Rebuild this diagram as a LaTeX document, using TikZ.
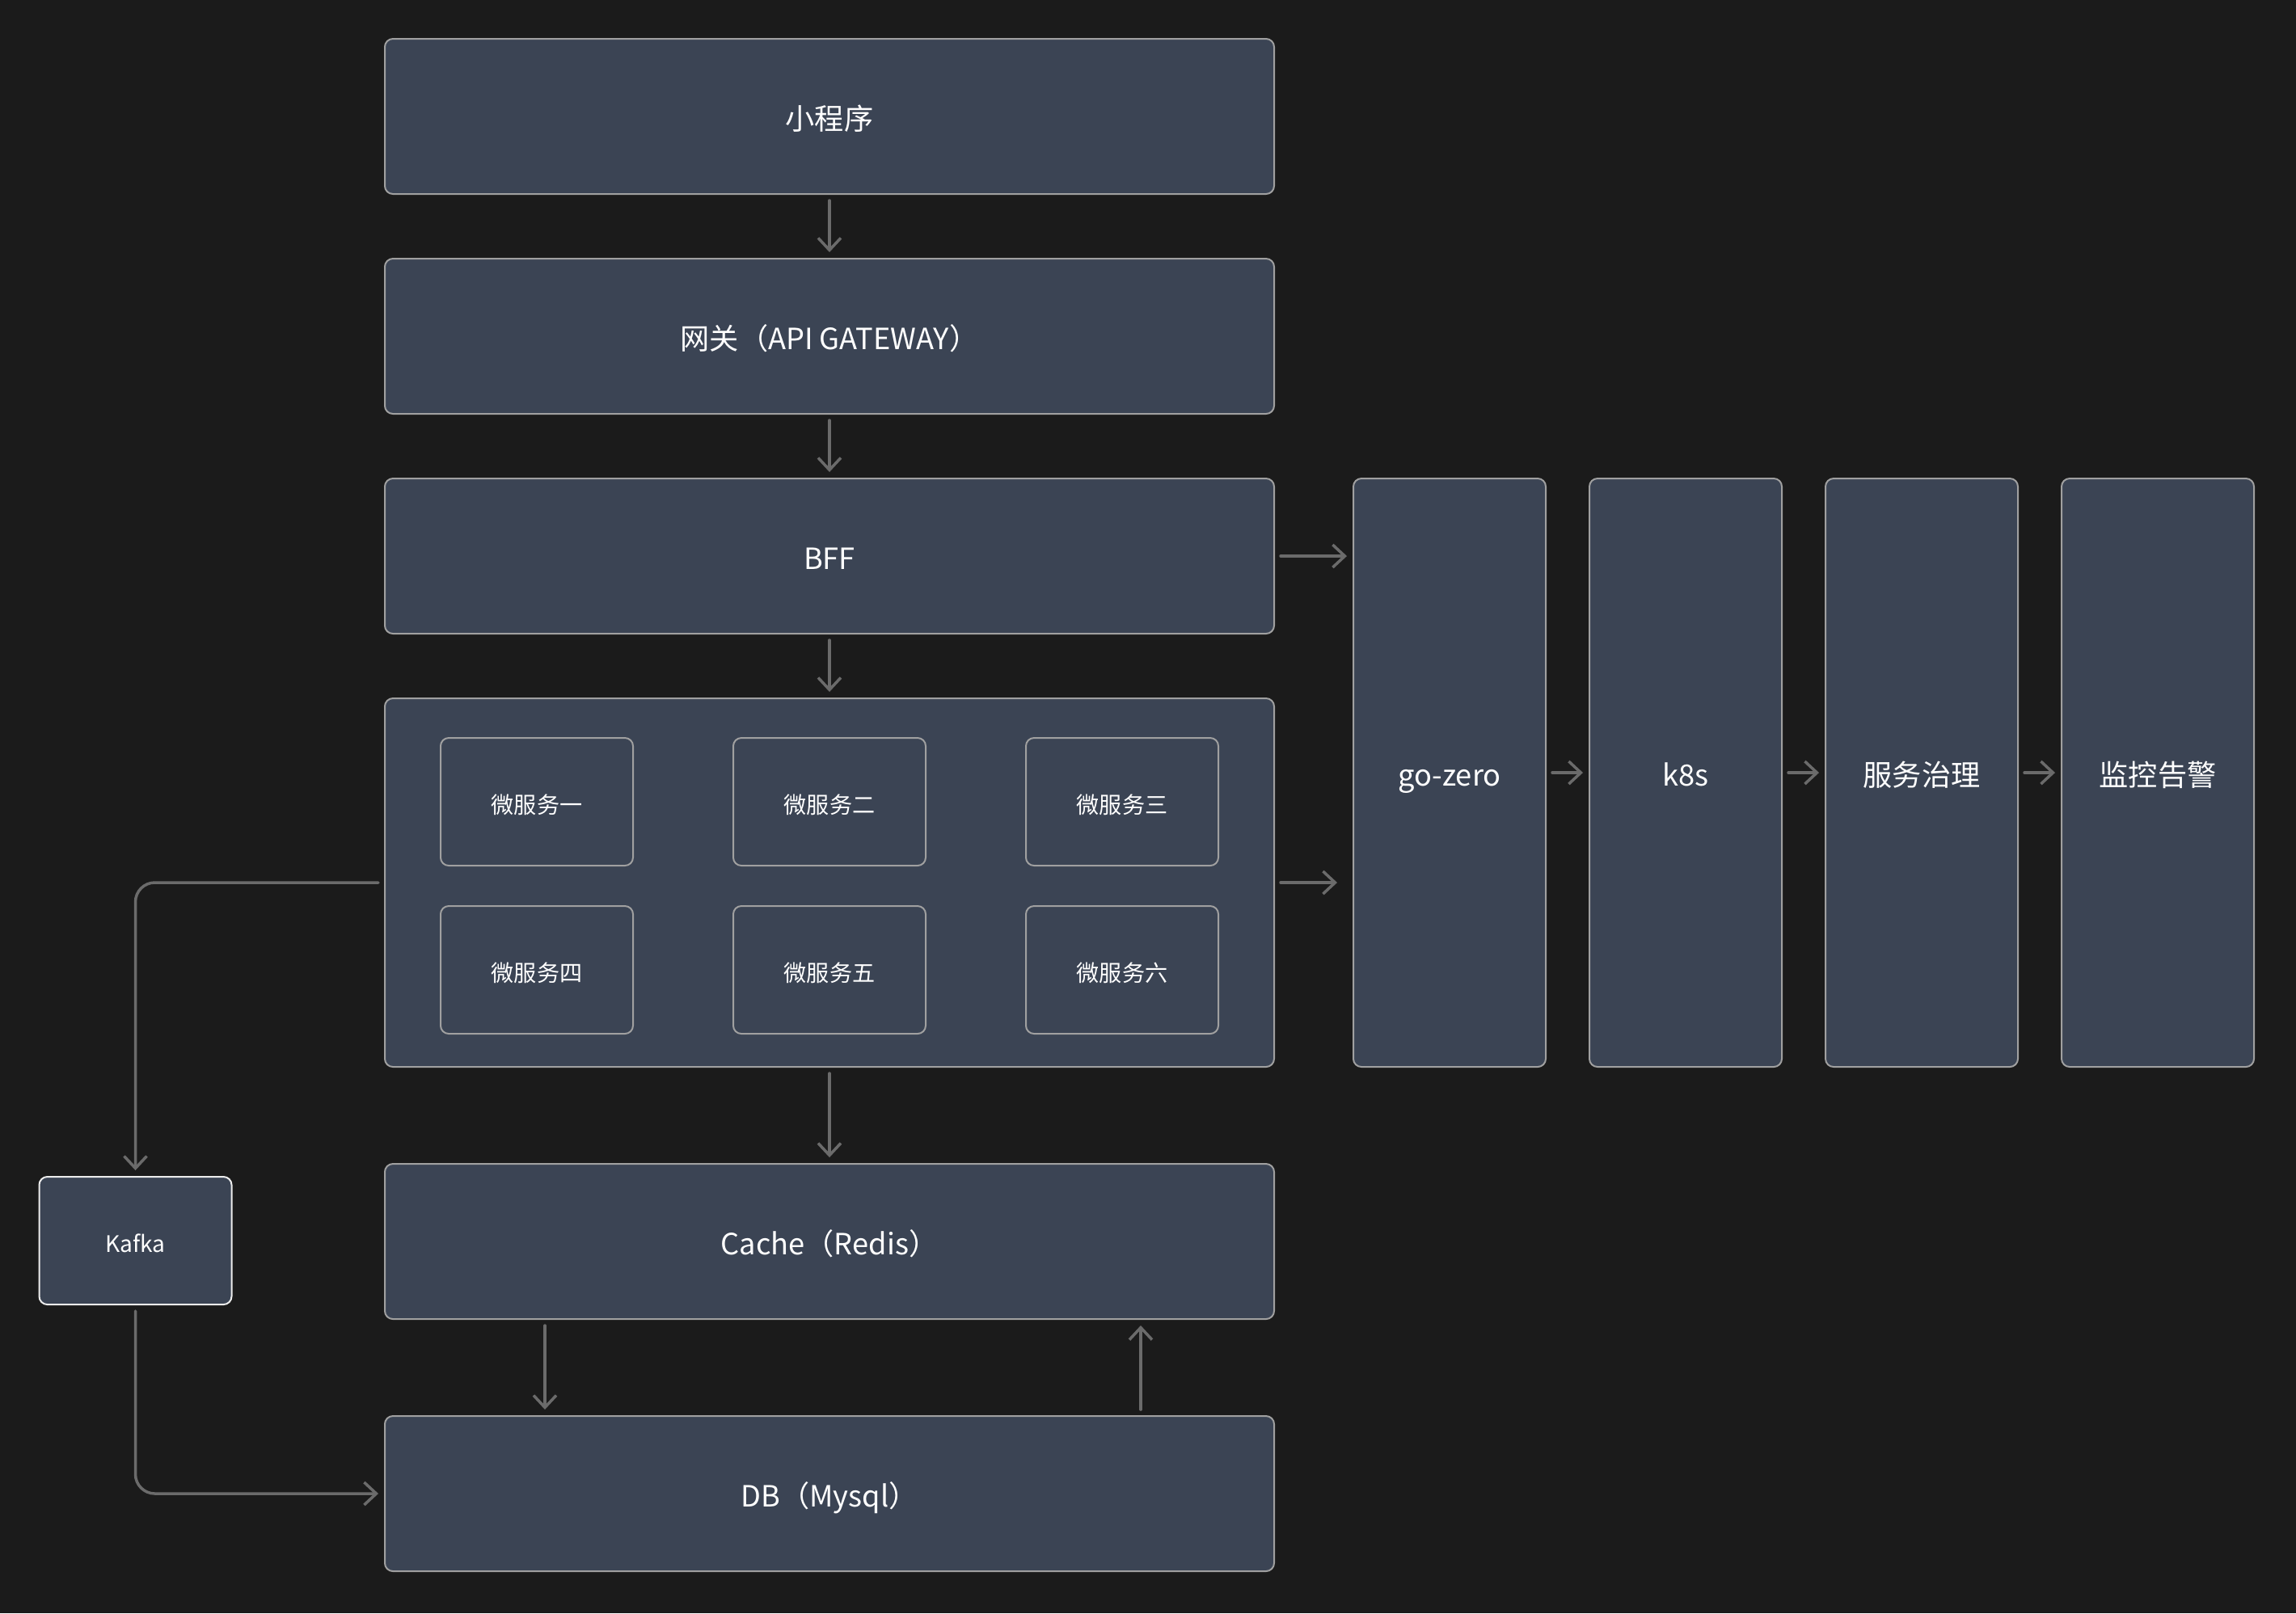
\documentclass[tikz,border=0pt]{standalone}
\usepackage{fontspec}
\setmainfont{Noto Sans CJK SC}
\usepackage{xcolor}
\usepackage{tikz}
\usetikzlibrary{positioning,arrows.meta,calc}

\definecolor{bgdark}{HTML}{1B1B1B}
\definecolor{boxfill}{HTML}{3B4454}
\definecolor{boxline}{HTML}{A0A0A0}
\definecolor{kafkaline}{HTML}{ECECEC}
\definecolor{flowline}{HTML}{6B6B6B}

\begin{document}
\begin{tikzpicture}[
  layer/.style={draw=boxline, fill=boxfill, line width=0.02cm, rounded corners=0.1cm,
    text=white, font=\fontsize{10.3}{12}\selectfont, inner sep=0pt, outer sep=0pt,
    text height=0.92em, text depth=0pt,
    minimum width=11cm, minimum height=1.92cm},
  pillar/.style={layer, minimum width=2.38cm, minimum height=7.28cm},
  svcbox/.style={layer, font=\fontsize{8}{10}\selectfont, text height=0.82em,
    minimum width=2.38cm, minimum height=1.58cm},
  flow/.style={draw=flowline, line width=0.035cm, line cap=round,
    -{Straight Barb[length=0.15cm,width=0.28cm]}, shorten <=0.08cm, shorten >=0.08cm}
]
% Background
\fill[bgdark] (0,0) rectangle (28.4,-19.96);
\useasboundingbox (0,0) rectangle (28.4,-19.96);

% Main layers
\node[layer] (app) at (10.26,-1.44) {小程序};
\node[layer] (gateway) at (10.26,-4.16) {网关（API GATEWAY）};
\node[layer] (bff) at (10.26,-6.88) {BFF};
\node[layer, minimum height=4.56cm] (svc) at (10.26,-10.92) {};
\node[layer] (cache) at (10.26,-15.36) {Cache（Redis）};
\node[layer] (db) at (10.26,-18.48) {DB（Mysql）};

% Microservices
\node[svcbox] (svc1) at (6.64,-9.92) {微服务一};
\node[svcbox] (svc2) at (10.26,-9.92) {微服务二};
\node[svcbox] (svc3) at (13.88,-9.92) {微服务三};
\node[svcbox] (svc4) at (6.64,-12.00) {微服务四};
\node[svcbox] (svc5) at (10.26,-12.00) {微服务五};
\node[svcbox] (svc6) at (13.88,-12.00) {微服务六};

% Kafka
\node[svcbox, draw=kafkaline] (kafka) at (1.675,-15.35) {Kafka};

% Right column
\node[pillar] (goz) at (17.93,-9.56) {go-zero};
\node[pillar] (k8s) at (20.85,-9.56) {k8s};
\node[pillar] (gov) at (23.77,-9.56) {服务治理};
\node[pillar] (mon) at (26.69,-9.56) {监控告警};

% Vertical flow
\draw[flow] (app) -- (gateway);
\draw[flow] (gateway) -- (bff);
\draw[flow] (bff) -- (svc);
\draw[flow] (svc) -- (cache);
\draw[flow] ([xshift=-3.52cm]cache.south) -- ([xshift=-3.52cm]db.north);
\draw[flow] ([xshift=3.85cm]db.north) -- ([xshift=3.85cm]cache.south);

% Into the framework
\draw[flow] (bff.east) -- (bff.east -| goz.west);
\draw[flow, shorten >=0.2cm] (svc.east) -- (svc.east -| goz.west);
\draw[flow] (goz) -- (k8s);
\draw[flow] (k8s) -- (gov);
\draw[flow] (gov) -- (mon);

% Kafka path
\draw[flow, rounded corners=0.24cm] (svc.west) -- (svc.west -| kafka.north) -- (kafka.north);
\draw[flow, rounded corners=0.24cm] (kafka.south) -- (kafka.south |- db.west) -- (db.west);
\end{tikzpicture}
\end{document}
